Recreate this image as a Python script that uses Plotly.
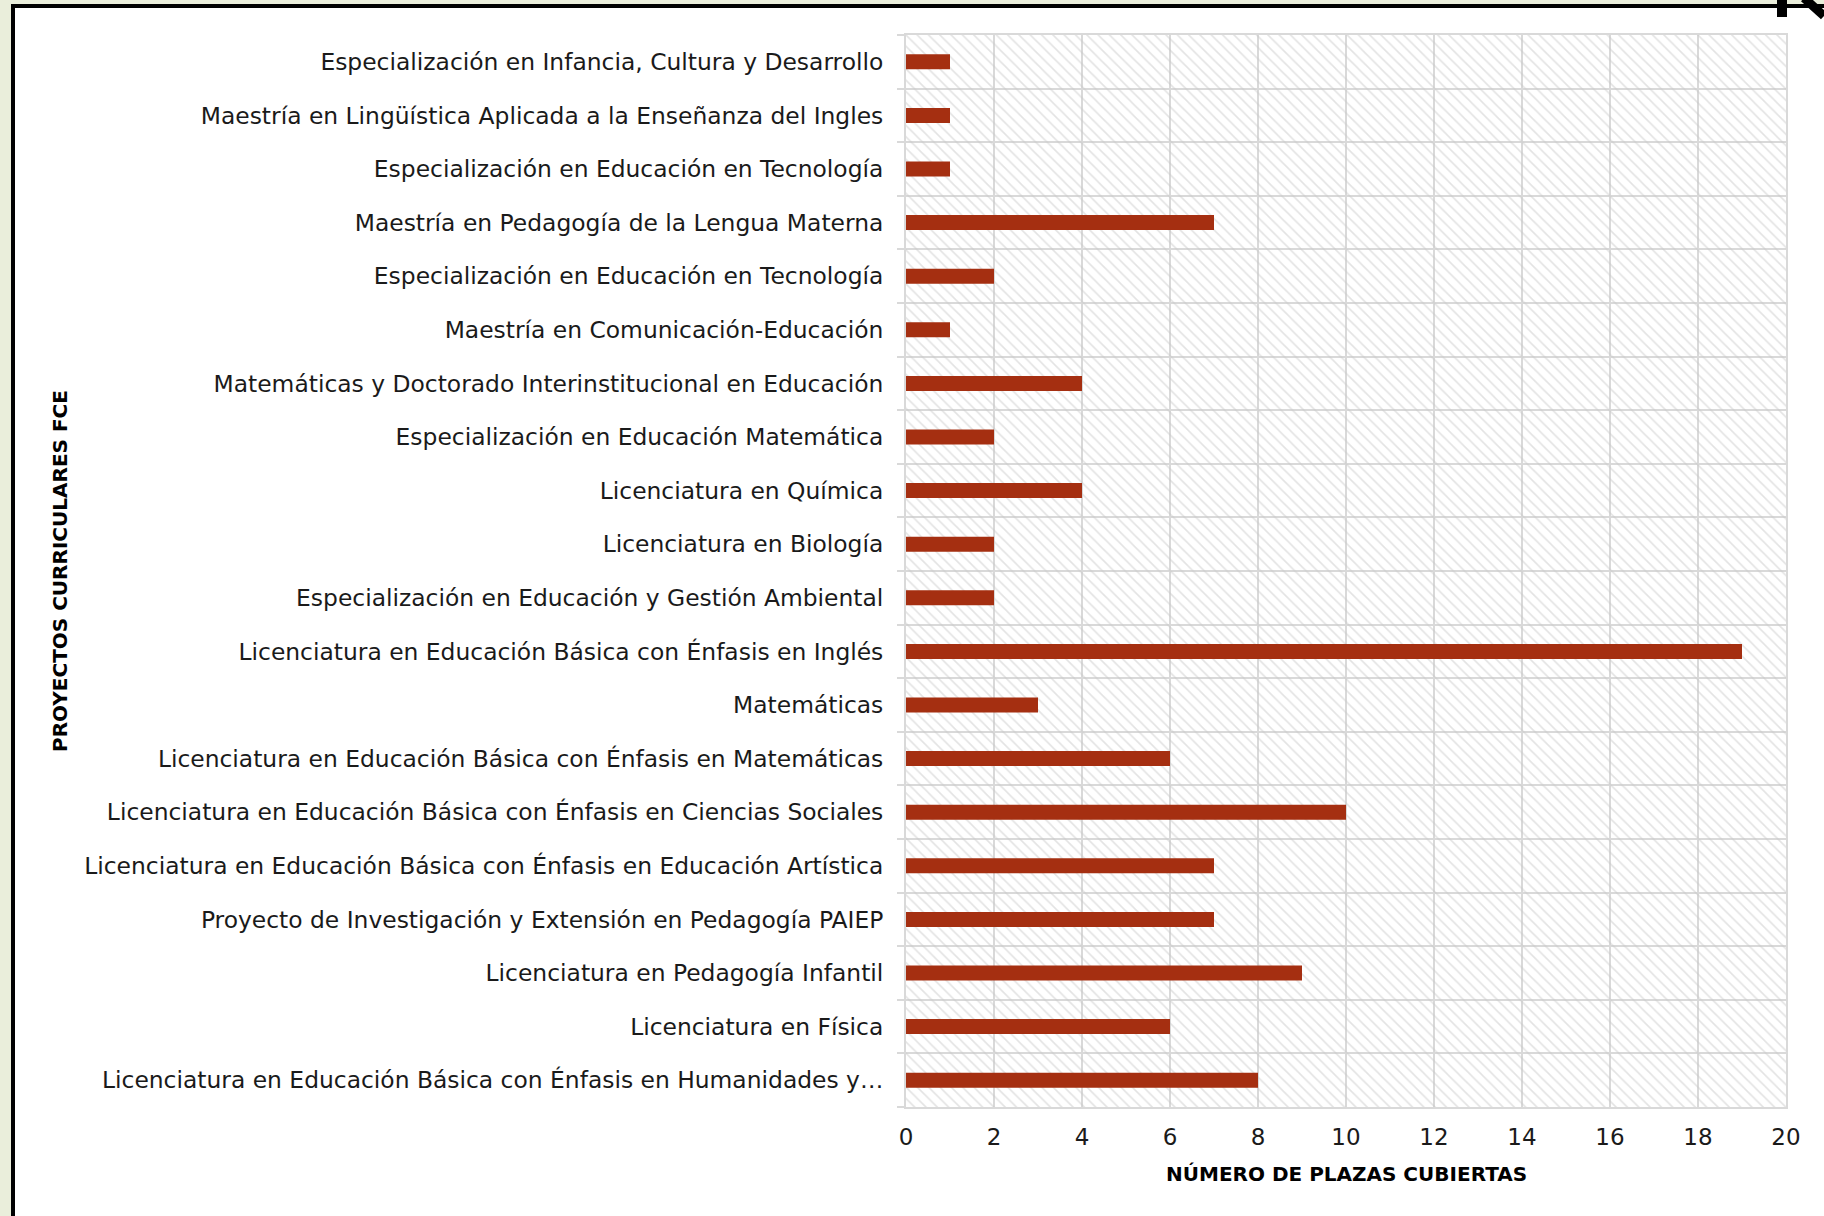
import plotly.graph_objects as go

# ---- data (top to bottom as shown) ----
programas = [
    "Especialización en Infancia, Cultura y Desarrollo",
    "Maestría en Lingüística Aplicada a la Enseñanza del Ingles",
    "Especialización en Educación en Tecnología",
    "Maestría en Pedagogía de la Lengua Materna",
    "Especialización en Educación en Tecnología",
    "Maestría en Comunicación-Educación",
    "Matemáticas y Doctorado Interinstitucional en Educación",
    "Especialización en Educación Matemática",
    "Licenciatura en Química",
    "Licenciatura en Biología",
    "Especialización en Educación y Gestión Ambiental",
    "Licenciatura en Educación Básica con Énfasis en Inglés",
    "Matemáticas",
    "Licenciatura en Educación Básica con Énfasis en Matemáticas",
    "Licenciatura en Educación Básica con Énfasis en Ciencias Sociales",
    "Licenciatura en Educación Básica con Énfasis en Educación Artística",
    "Proyecto de Investigación y Extensión en Pedagogía PAIEP",
    "Licenciatura en Pedagogía Infantil",
    "Licenciatura en Física",
    "Licenciatura en Educación Básica con Énfasis en Humanidades y…",
]
plazas = [1, 1, 1, 7, 2, 1, 4, 2, 4, 2, 2, 19, 3, 6, 10, 7, 7, 9, 6, 8]

x_ticks = [0, 2, 4, 6, 8, 10, 12, 14, 16, 18, 20]
x_title = "NÚMERO DE PLAZAS CUBIERTAS"
y_title = "PROYECTOS CURRICULARES FCE"

# ---- layout geometry ----
W, H = 1824, 1216
L, R, T, B = 906, 1786, 35, 1107
PW, PH = R - L, B - T


def px(x):
    return (x - L) / PW


def py(y):
    return (B - y) / PH


FONT = "DejaVu Sans"
BAR = "#a52f11"
GRID = "#d9d9d9"

n = len(programas)
pos = list(range(n))
x_max = x_ticks[-1]

fig = go.Figure()

# hatched plot-area background (one bar spanning all categories)
fig.add_trace(go.Bar(
    x=[x_max], y=[(n - 1) / 2], width=[n], orientation="h",
    marker=dict(color="rgba(0,0,0,0)", line=dict(width=0),
                pattern=dict(shape="\\", fgcolor="#c8c8c8", bgcolor="rgba(0,0,0,0)",
                             size=8, solidity=0.2, fillmode="overlay")),
    hoverinfo="skip", showlegend=False,
))

fig.add_trace(go.Bar(
    x=plazas, y=pos, orientation="h", width=0.28,
    marker=dict(color=BAR, line=dict(width=0)),
    showlegend=False,
))

fig.update_layout(
    width=W, height=H,
    margin=dict(l=L, r=W - R, t=T, b=H - B, autoexpand=False),
    paper_bgcolor="#eaeedb",
    plot_bgcolor="white",
    barmode="overlay",
    font=dict(family=FONT, color="#1a1a1a", size=23),
    xaxis=dict(
        range=[0, x_max], tickvals=x_ticks, ticks="", ticklabelstandoff=8,
        showgrid=True, gridcolor=GRID, gridwidth=2,
        zeroline=False, showline=True, linecolor=GRID, linewidth=2, mirror=True,
        tickfont=dict(size=23, family=FONT, color="#1a1a1a"),
    ),
    yaxis=dict(
        range=[n - 0.5, -0.5], tickvals=pos, ticktext=programas,
        ticks="", ticklabelstandoff=16, showgrid=False, zeroline=False,
        showline=True, linecolor=GRID, linewidth=2, mirror=True,
        minor=dict(tick0=0.5, dtick=1, showgrid=True, gridcolor=GRID, gridwidth=2,
                   ticks="outside", ticklen=7, tickcolor=GRID, tickwidth=2),
        tickfont=dict(size=23.4, family=FONT, color="#1a1a1a"),
    ),
    shapes=[
        # outer frame
        dict(type="rect", xref="paper", yref="paper", layer="below",
             x0=px(13), x1=px(W + 20), y0=py(6), y1=py(H + 20),
             line=dict(color="black", width=4), fillcolor="white"),
        # logo fragment top right
        dict(type="rect", xref="paper", yref="paper",
             x0=px(1777), x1=px(1787), y0=py(-2), y1=py(17),
             line=dict(width=0), fillcolor="black"),
        dict(type="line", xref="paper", yref="paper",
             x0=px(1804), x1=px(1824), y0=py(-2), y1=py(16),
             line=dict(color="black", width=9)),
    ],
    annotations=[
        dict(text="<b>" + x_title + "</b>", xref="paper", yref="paper",
             x=0.5, y=py(1174), showarrow=False, xanchor="center", yanchor="middle",
             font=dict(size=20, family=FONT, color="black")),
        dict(text="<b>" + y_title + "</b>", xref="paper", yref="paper",
             x=px(60), y=0.5, showarrow=False, textangle=-90,
             xanchor="center", yanchor="middle",
             font=dict(size=20, family=FONT, color="black")),
    ],
)

fig.write_html("out.html", config={"displayModeBar": False},
               post_script="document.body.style.margin='0';document.body.style.overflow='hidden';")
